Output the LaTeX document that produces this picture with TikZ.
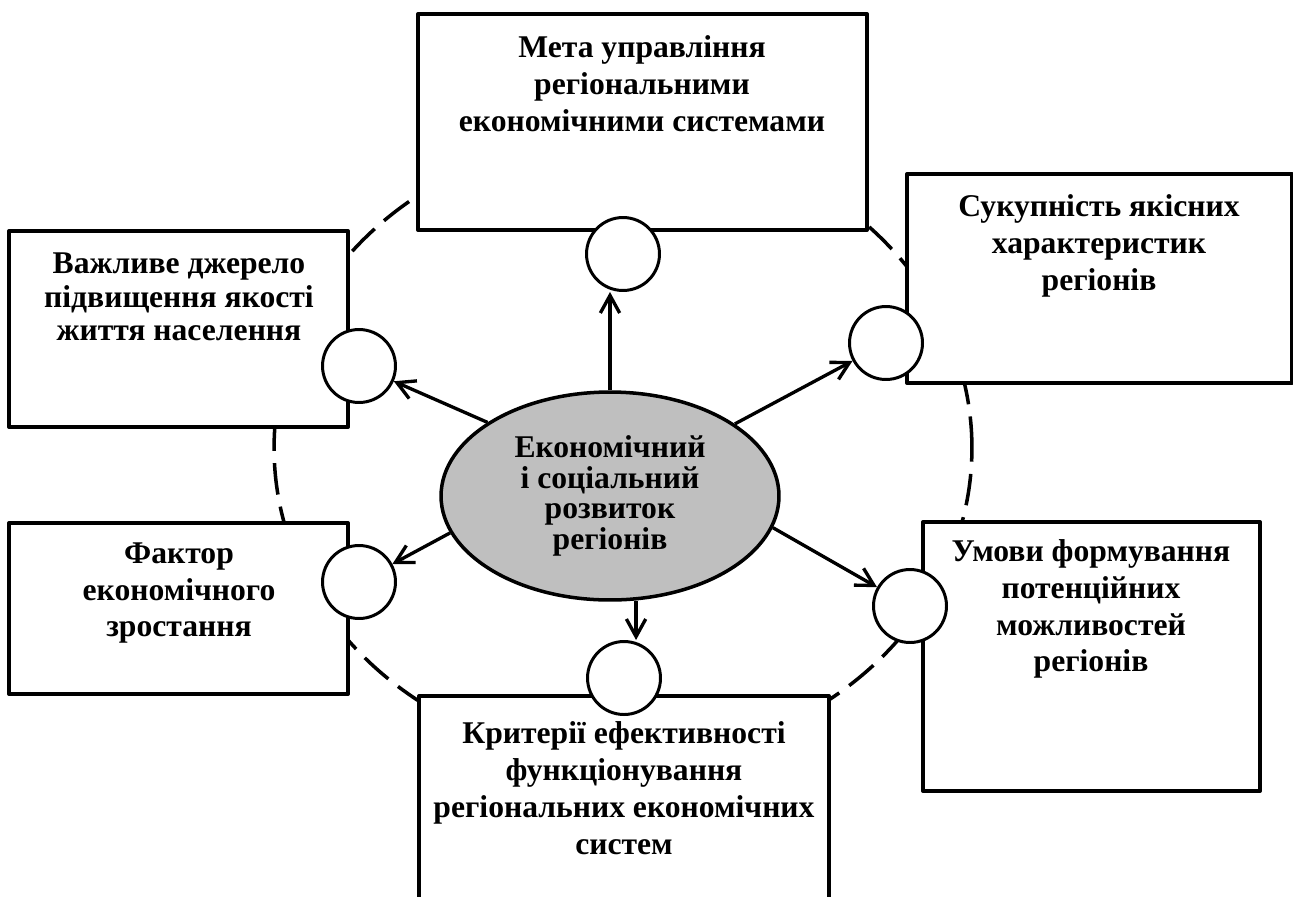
\documentclass[tikz,border=0pt]{standalone}
\usepackage{fontspec}
\setmainfont{Liberation Serif}
\usetikzlibrary{arrows.meta,fit,shapes.geometric}
\newcommand\ellfont{\fontsize{18}{17.5}\selectfont\bfseries\lineskiplimit=-20pt\relax}
\begin{document}
\begin{tikzpicture}[x=0.02cm,y=-0.02cm,line join=round,>={Straight Barb[length=10pt,width=11pt]},font=\fontsize{18}{21}\selectfont\bfseries]
\tikzset{
box/.style={draw,line width=2.3pt,fill=white,inner sep=0pt},
dot/.style={circle,draw,line width=1.7pt,fill=white,minimum size=1.46cm,inner sep=0pt},
lbl/.style={align=center,inner sep=0pt},
arr/.style={->,line width=1.9pt}
}
\useasboundingbox (0,0) rectangle (1293,896);
% dashed ring behind the boxes
\draw[line width=2pt,dash pattern=on 18pt off 7pt] (623,448) ellipse [x radius=6.98cm, y radius=6.24cm];
% boxes
\node[box,fit={(418,14)(867,230)}] (goal) {};
\node[box,fit={(907,174)(1292,383)}] (qual) {};
\node[box,fit={(9,231)(348,427)}] (src) {};
\node[box,fit={(9,523)(348,694)}] (fac) {};
\node[box,fit={(923,522)(1260,791)}] (term) {};
\node[box,fit={(419,696)(829,910)}] (crit) {};
\node[lbl] (goalt) at (642,84) {Мета управління\\регіональними\\економічними системами};
\node[lbl] (qualt) at (1099,246) {Сукупність якісних\\характеристик\\регіонів};
\node[lbl,font=\fontsize{18}{19}\selectfont\bfseries] (srct) at (179,297) {Важливе джерело\\підвищення якості\\життя населення};
\node[lbl] (fact) at (179,593) {Фактор\\економічного\\зростання};
\node[lbl] (termt) at (1091,609) {Умови формування\\потенційних\\можливостей\\регіонів};
\node[lbl] (critt) at (624,788) {Критерії ефективності\\функціонування\\регіональних економічних\\систем};
% small circles on the boxes
\foreach \n/\p in {1/{623,254},2/{886,343},3/{359,366},4/{359,582},5/{910,606},6/{624,678}}
  \node[dot] (c\n) at (\p) {};
% centre
\node[ellipse,draw,fill=black!25,line width=2pt,minimum width=6.76cm,minimum height=4.16cm,lbl,font=\ellfont] (cen) at (610,496) {Економічний\\і соціальний\\розвиток\\регіонів};
\draw[arr] (cen.north) -- (cen.north |- c1.south);
\draw[arr] (cen.30) -- (c2);
\draw[arr] (cen.149) -- (c3);
\draw[arr] (cen.193) -- (c4);
\draw[arr] (cen.-11) -- (c5);
\draw[arr] (cen.-76) -- (cen.-76 |- c6.north);
\end{tikzpicture}
\end{document}
